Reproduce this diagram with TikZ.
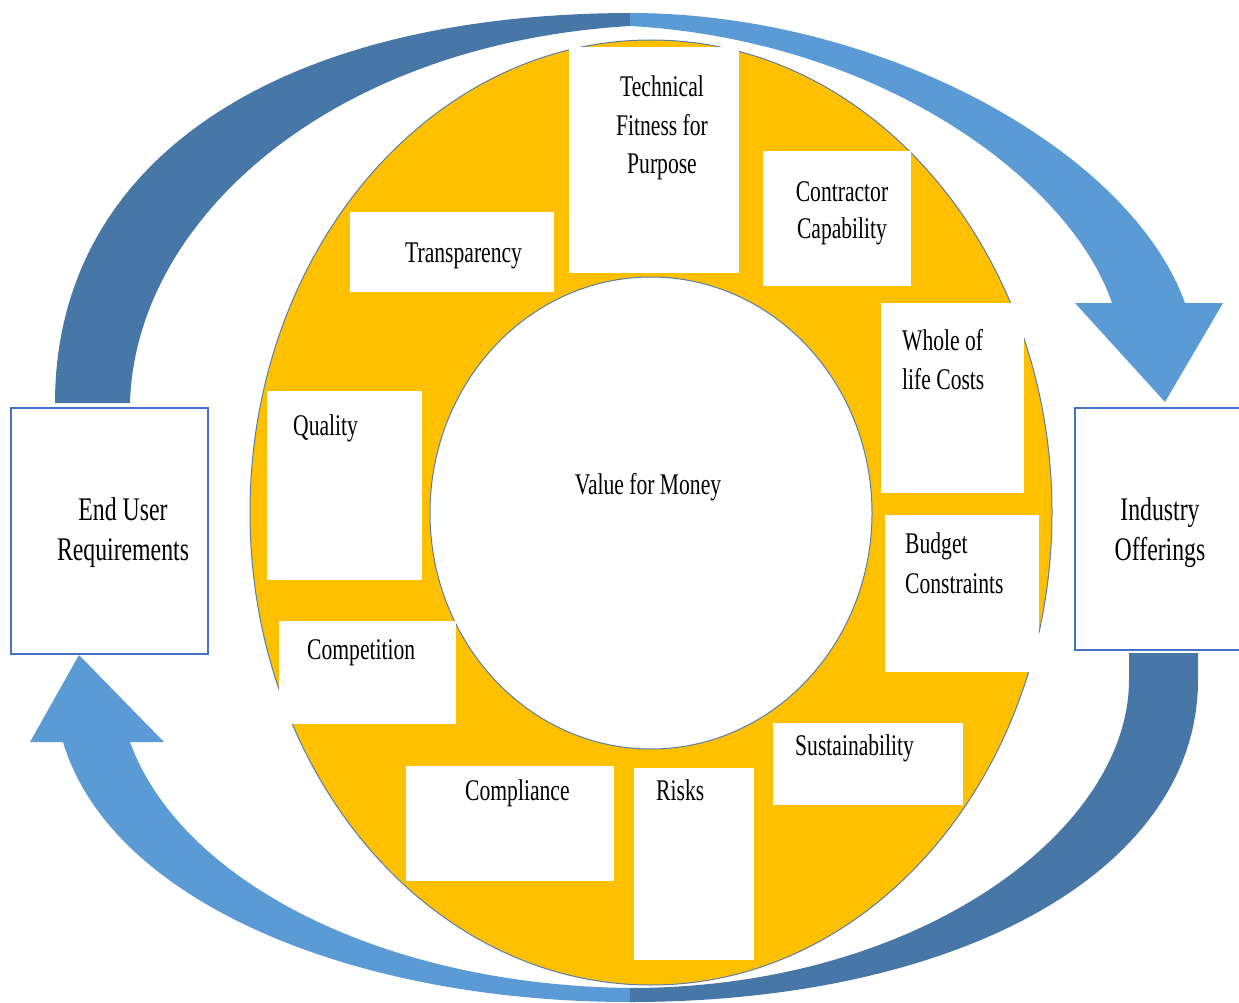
\documentclass[tikz,border=0pt]{standalone}
\usepackage{fontspec,tikz}
\setmainfont{Liberation Serif}[FakeStretch=0.72]
\definecolor{ringyellow}{HTML}{FFC000}
\definecolor{rimblue}{HTML}{5A7DA3}
\definecolor{backblue}{HTML}{4677A6}
\definecolor{frontblue}{HTML}{5B9BD5}
\definecolor{boxblue}{HTML}{4472C4}

\begin{document}
\begin{tikzpicture}[x=1pt,y=-1pt,
  cardtext/.style={anchor=base,inner sep=0pt,font=\fontsize{30}{36}\selectfont},
  sidetext/.style={anchor=base,inner sep=0pt,font=\fontsize{33}{40}\selectfont},
  sidebox/.style={draw=boxblue,line width=2pt,fill=white}]
\path[use as bounding box] (0,0) rectangle (1239,1003);
% ring and centre
\draw[fill=ringyellow,draw=rimblue,line width=1pt] (651,512.5) ellipse [x radius=401,y radius=472.5];
\draw[fill=white,draw=rimblue,line width=1pt] (651,513) ellipse [x radius=221,y radius=236];
\node[cardtext] (vfm) at (648,494) {Value for Money};
% white cards on the ring
\fill[white] (569,47) rectangle (739,273);
\node[cardtext] (tech1) at (662,97) {Technical};
\node[cardtext] (tech2) at (662,136) {Fitness for};
\node[cardtext] (tech3) at (662,174) {Purpose};
\fill[white] (763,151) rectangle (911,286);
\node[cardtext] (contr1) at (842,202) {Contractor};
\node[cardtext] (contr2) at (842,238) {Capability};
\fill[white] (350,212) rectangle (554,292);
\node[cardtext,anchor=base west] (transp) at (405,262) {Transparency};
\fill[white] (881,303) rectangle (1024,493);
\node[cardtext,anchor=base west] (whole1) at (902,350) {Whole of};
\node[cardtext,anchor=base west] (whole2) at (902,389) {life Costs};
\fill[white] (267,391) rectangle (422,580);
\node[cardtext,anchor=base west] (quality) at (293,435) {Quality};
\fill[white] (885,515) rectangle (1039,672);
\node[cardtext,anchor=base west] (budget1) at (905,553) {Budget};
\node[cardtext,anchor=base west] (budget2) at (905,593) {Constraints};
\fill[white] (279,621) rectangle (456,724);
\node[cardtext,anchor=base west] (compet) at (307,659) {Competition};
\fill[white] (773,723) rectangle (963,805);
\node[cardtext,anchor=base west] (sustain) at (795,755) {Sustainability};
\fill[white] (406,766) rectangle (614,881);
\node[cardtext,anchor=base west] (compl) at (465,800) {Compliance};
\fill[white] (634,768) rectangle (754,960);
\node[cardtext,anchor=base west] (risks) at (656,800) {Risks};
% top curved arrow
\fill[backblue] (55,403) .. controls (55,165) and (270,14) .. (630,13)
  -- (630,26) .. controls (330,44) and (135,220) .. (130,403) -- cycle;
\fill[frontblue] (630,13) .. controls (880,13) and (1130,150) .. (1185,303)
  -- (1223,303) -- (1165,402) -- (1075,303) -- (1112,303)
  .. controls (1070,180) and (880,40) .. (630,26) -- cycle;
% bottom curved arrow
\fill[frontblue] (30,742) -- (79,655) -- (164,742) -- (130,742)
  .. controls (180,880) and (380,985) .. (630,988)
  -- (630,1002) .. controls (350,1002) and (110,900) .. (63,742) -- cycle;
\fill[backblue] (630,1002) .. controls (960,1002) and (1198,870) .. (1198,680)
  -- (1198,653) -- (1129,653) -- (1129,680)
  .. controls (1129,830) and (920,988) .. (630,988) -- cycle;
% side boxes
\draw[sidebox] (11,408) rectangle (208,654);
\node[sidetext] (user1) at (123,520) {End User};
\node[sidetext] (user2) at (123,560) {Requirements};
\draw[sidebox] (1075,408) rectangle (1245,650);
\node[sidetext] (ind1) at (1160,520) {Industry};
\node[sidetext] (ind2) at (1160,560) {Offerings};
\end{tikzpicture}
\end{document}
